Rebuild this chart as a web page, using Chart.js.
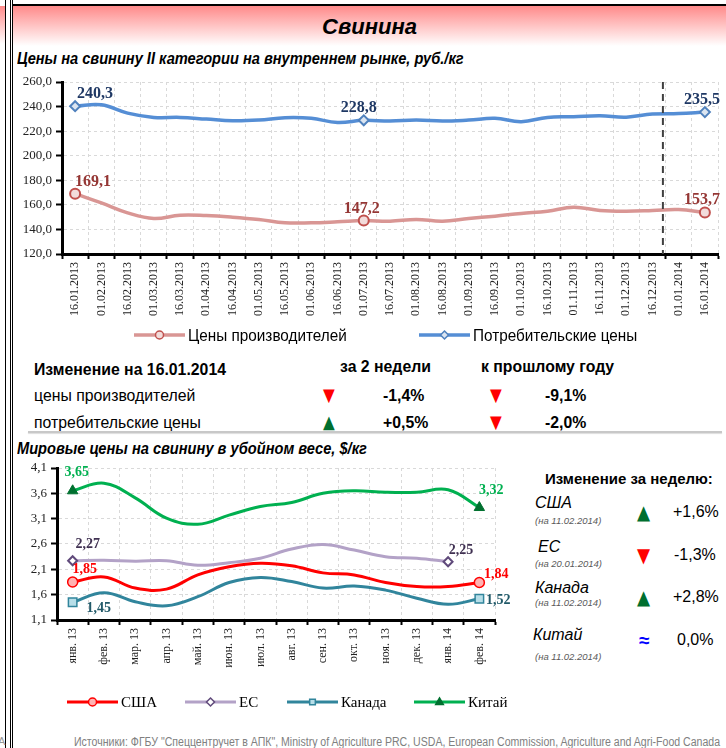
<!DOCTYPE html>
<html lang="ru">
<head>
<meta charset="utf-8">
<title>Свинина</title>
<script src="https://cdn.jsdelivr.net/npm/chart.js@4.4.1/dist/chart.umd.min.js"></script>
<style>
  body { margin: 0; width: 726px; height: 748px; overflow: hidden; background: #fff; position: relative;
         font-family: "Liberation Sans", Arial, sans-serif; color: #000; }
  .abs { position: absolute; white-space: nowrap; line-height: 1; }
  .vline { position: absolute; top: 0; width: 1px; height: 748px; background: #000; }
  canvas { position: absolute; left: 0; }
  .title { left: 13px; width: 713px; top: 14px; text-align: center; font: italic bold 22px "Liberation Sans", Arial, sans-serif; }
  .sub { left: 17px; font-weight: bold; font-style: italic; font-size: 17px; transform: scaleX(0.86); transform-origin: left center; }
  .tbl { font-size: 17px; transform: translateY(-50%) scaleX(0.93); transform-origin: left center; }
  .tri { font-family: "DejaVu Sans", sans-serif; font-size: 18px; transform: translateY(-50%) scaleX(0.85); transform-origin: left center; }
  .b { font-weight: bold; }
  .up { color: #006f2f; } .down { color: #ff0000; }
  .wk { transform: translateY(-50%); }
  .cty { font-style: italic; font-size: 16px; }
  .dt { font-style: italic; font-size: 9.5px; color: #595959; }
</style>
</head>
<body>
<div class="abs" style="left:0;top:6px;width:5px;height:38px;background:linear-gradient(#ff8a8a,#fff)"></div>
<div class="abs" style="left:13px;top:6px;width:713px;height:40px;background:linear-gradient(#ff8a8a,#fff)"></div>
<div class="abs" style="left:12px;top:4px;width:714px;height:2px;background:#000"></div>
<div class="vline" style="left:5px"></div>
<div class="vline" style="left:10px"></div>
<div class="vline" style="left:12px"></div>
<div class="abs" style="left:-2px;top:736px;font-size:11px;color:#999">A</div>

<div class="abs title">Свинина</div>
<div class="abs sub" style="top:50px">Цены на свинину II категории на внутреннем рынке, руб./кг</div>

<canvas id="domestic" width="726" height="284" style="top:66px"></canvas>

<div class="abs tbl b" style="left:34px;top:369px">Изменение на 16.01.2014</div>
<div class="abs tbl b" style="left:340px;top:366px">за 2 недели</div>
<div class="abs tbl b" style="left:481px;top:366px">к прошлому году</div>
<div class="abs tbl" style="left:34px;top:395px">цены производителей</div>
<div class="abs tri down" style="left:323px;top:395px">▼</div>
<div class="abs tbl b" style="left:383px;top:395px">-1,4%</div>
<div class="abs tri down" style="left:490px;top:395px">▼</div>
<div class="abs tbl b" style="left:545px;top:395px">-9,1%</div>
<div class="abs tbl" style="left:34px;top:422px">потребительские цены</div>
<div class="abs tri up" style="left:323px;top:422px">▲</div>
<div class="abs tbl b" style="left:383px;top:422px">+0,5%</div>
<div class="abs tri down" style="left:490px;top:422px">▼</div>
<div class="abs tbl b" style="left:545px;top:422px">-2,0%</div>
<div class="abs" style="left:28px;top:431px;width:694px;height:2px;background:#c8c8c8;box-shadow:0 1px 1px #ddd"></div>

<div class="abs sub" style="top:440px">Мировые цены на свинину в убойном весе, $/кг</div>
<canvas id="world" width="520" height="275" style="top:440px"></canvas>

<div class="abs wk b" style="left:545px;top:478px;font-size:15px">Изменение за неделю:</div>
<div class="abs wk cty" style="left:535px;top:503px">США</div>
<div class="abs wk dt" style="left:535px;top:521px">(на 11.02.2014)</div>
<div class="abs tri up" style="left:637px;top:512px;font-size:20px">▲</div>
<div class="abs wk" style="left:673px;top:512px;font-size:16px">+1,6%</div>
<div class="abs wk cty" style="left:538px;top:547px">ЕС</div>
<div class="abs wk dt" style="left:535px;top:564px">(на 20.01.2014)</div>
<div class="abs tri down" style="left:637px;top:555px;font-size:20px">▼</div>
<div class="abs wk" style="left:674px;top:555px;font-size:16px">-1,3%</div>
<div class="abs wk cty" style="left:535px;top:588px">Канада</div>
<div class="abs wk dt" style="left:535px;top:603px">(на 11.02.2014)</div>
<div class="abs tri up" style="left:637px;top:597px;font-size:20px">▲</div>
<div class="abs wk" style="left:673px;top:597px;font-size:16px">+2,8%</div>
<div class="abs wk cty" style="left:533px;top:635px">Китай</div>
<div class="abs wk dt" style="left:535px;top:657px">(на 11.02.2014)</div>
<div class="abs wk b" style="left:639px;top:640px;font-size:19px;color:#0000ff">≈</div>
<div class="abs wk" style="left:677px;top:640px;font-size:16px">0,0%</div>

<div class="abs" style="left:74px;top:736px;font-size:12px;color:#808080;transform:scaleX(0.88);transform-origin:left center">Источники: ФГБУ "Спеццентручет в АПК", Ministry of Agriculture PRC, USDA, European Commission, Agriculture and Agri-Food Canada</div>

<script>
// внутренний рынок, руб./кг
const dates = ['16.01.2013', '01.02.2013', '16.02.2013', '01.03.2013', '16.03.2013', '01.04.2013', '16.04.2013',
  '01.05.2013', '16.05.2013', '01.06.2013', '16.06.2013', '01.07.2013', '16.07.2013', '01.08.2013', '16.08.2013',
  '01.09.2013', '16.09.2013', '01.10.2013', '16.10.2013', '01.11.2013', '16.11.2013', '01.12.2013', '16.12.2013',
  '01.01.2014', '16.01.2014'];
const producerPrices = [169.1, 161.6, 153.5, 148.9, 151.6, 151.3, 150.0, 148.1, 145.4, 145.4, 146.2, 147.2, 146.7,
  148.1, 146.7, 148.9, 150.8, 153.0, 154.8, 158.1, 155.4, 154.8, 155.4, 156.2, 153.7];
const consumerPrices = [240.3, 241.4, 234.7, 231.2, 231.2, 229.8, 228.4, 229.0, 230.9, 230.4, 227.1, 228.8, 228.2,
  229.0, 228.2, 229.0, 230.4, 227.7, 231.2, 231.7, 232.5, 231.4, 233.9, 234.4, 235.5];
const domesticTicks = [120, 140, 160, 180, 200, 220, 240, 260];
const domesticMarked = [0, 11, 24];
const yearDivider = 22.4; // между 16.12.2013 и 01.01.2014

// мировые цены, $/кг
const months = ['янв. 13', 'фев. 13', 'мар. 13', 'апр. 13', 'май. 13', 'июн. 13', 'июл. 13', 'авг. 13',
  'сен. 13', 'окт. 13', 'ноя. 13', 'дек. 13', 'янв. 14', 'фев. 14'];
const usa = [1.85, 1.95, 1.73, 1.71, 1.99, 2.15, 2.22, 2.17, 2.03, 1.99, 1.84, 1.76, 1.76, 1.84];
const eu = [2.27, 2.28, 2.26, 2.27, 2.18, 2.23, 2.32, 2.50, 2.59, 2.48, 2.35, 2.32, 2.25, null];
const canada = [1.45, 1.64, 1.46, 1.38, 1.56, 1.84, 1.94, 1.86, 1.73, 1.77, 1.69, 1.53, 1.41, 1.52];
const china = [3.65, 3.80, 3.51, 3.11, 2.99, 3.17, 3.34, 3.42, 3.60, 3.65, 3.62, 3.62, 3.67, 3.32];
const worldTicks = [1.1, 1.6, 2.1, 2.6, 3.1, 3.6, 4.1];

const comma = (v, d) => v.toFixed(d).replace('.', ',');

function marker(ctx, style, x, y, r, fill, stroke, lw) {
  ctx.save();
  ctx.beginPath();
  if (style === 'circle') {
    ctx.arc(x, y, r, 0, Math.PI * 2);
  } else if (style === 'rectRot') {
    ctx.moveTo(x, y - r); ctx.lineTo(x + r, y); ctx.lineTo(x, y + r); ctx.lineTo(x - r, y); ctx.closePath();
  } else if (style === 'rect') {
    const s = r * Math.SQRT1_2;
    ctx.rect(x - s, y - s, 2 * s, 2 * s);
  } else if (style === 'triangle') {
    ctx.moveTo(x, y - r); ctx.lineTo(x + r * 0.95, y + r * 0.6); ctx.lineTo(x - r * 0.95, y + r * 0.6); ctx.closePath();
  }
  ctx.fillStyle = fill;
  ctx.fill();
  ctx.lineWidth = lw;
  ctx.strokeStyle = stroke;
  ctx.stroke();
  ctx.restore();
}

// подписи значений у отмеченных точек
const valueLabels = {
  id: 'valueLabels',
  afterDatasetsDraw(chart, args, opts) {
    const ctx = chart.ctx;
    ctx.save();
    ctx.font = opts.font;
    ctx.textAlign = 'center';
    ctx.textBaseline = 'middle';
    chart.data.datasets.forEach((ds, di) => {
      const meta = chart.getDatasetMeta(di);
      Object.entries(ds.valueLabels || {}).forEach(([i, off]) => {
        const pt = meta.data[i];
        ctx.fillStyle = ds.labelColor;
        ctx.fillText(comma(ds.data[i], opts.decimals), pt.x + off[0], pt.y + off[1]);
      });
    });
    ctx.restore();
  }
};

// легенда в стиле Excel: линия с маркером
const seriesLegend = {
  id: 'seriesLegend',
  afterDraw(chart, args, opts) {
    const ctx = chart.ctx;
    ctx.save();
    ctx.font = opts.font;
    ctx.textBaseline = 'middle';
    chart.data.datasets.forEach((ds, i) => {
      const x = opts.xs[i], y = opts.y;
      ctx.strokeStyle = ds.borderColor;
      ctx.lineWidth = ds.borderWidth;
      ctx.beginPath(); ctx.moveTo(x, y); ctx.lineTo(x + opts.len, y); ctx.stroke();
      marker(ctx, ds.pointStyle, x + opts.len / 2, y, opts.r, ds.pointBackgroundColor, ds.pointBorderColor, 1.5);
      ctx.fillStyle = '#000';
      ctx.save();
      ctx.translate(x + opts.len + 3, y + 1);
      ctx.scale(opts.squeeze, 1);
      ctx.fillText(ds.label, 0, 0);
      ctx.restore();
    });
    ctx.restore();
  }
};

// пунктирная граница года
const divider = {
  id: 'divider',
  afterDatasetsDraw(chart, args, opts) {
    const xs = chart.scales.x, a = chart.chartArea;
    const x = xs.getPixelForValue(Math.floor(opts.at)) + (opts.at % 1) * (xs.getPixelForValue(1) - xs.getPixelForValue(0));
    const ctx = chart.ctx;
    ctx.save();
    ctx.strokeStyle = '#404040';
    ctx.lineWidth = 2;
    ctx.setLineDash([7, 5]);
    ctx.beginPath(); ctx.moveTo(x, a.top); ctx.lineTo(x, a.bottom); ctx.stroke();
    ctx.restore();
  }
};

function markRadius(idx, r) {
  return ctx => idx.includes(ctx.dataIndex) ? r : 0;
}

function axes(ticks, dec, yWidth, xHeight) {
  return {
    x: {
      offset: true,
      afterFit: s => { s.height = xHeight; },
      grid: { offset: true, color: '#d9d9d9', lineWidth: 1, tickColor: '#000', tickWidth: 2, tickLength: 5, tickBorderDash: [] },
      border: { color: '#000', width: 3, dash: [3, 3] },
      ticks: { autoSkip: false, minRotation: 90, maxRotation: 90, padding: 3, color: '#222',
               font: { family: '"Liberation Serif", "Times New Roman", serif', size: 12 } }
    },
    y: {
      min: ticks[0], max: ticks[ticks.length - 1],
      afterFit: s => { s.width = yWidth; },
      afterBuildTicks: s => { s.ticks = ticks.map(v => ({ value: v })); },
      grid: { color: '#d9d9d9', lineWidth: 1, tickColor: '#000', tickWidth: 2, tickLength: 6, tickBorderDash: [] },
      border: { color: '#000', width: 3, dash: [3, 3] },
      ticks: { padding: 4, color: '#222', callback: v => comma(v, dec),
               font: { family: '"Liberation Serif", "Times New Roman", serif', size: 13 } }
    }
  };
}

new Chart(document.getElementById('domestic'), {
  type: 'line',
  data: {
    labels: dates,
    datasets: [
      { label: 'Цены производителей', data: producerPrices, borderColor: '#d99694', borderWidth: 3.5, tension: 0.4,
        pointStyle: 'circle', pointRadius: markRadius(domesticMarked, 5), pointBackgroundColor: '#f2dcdb',
        pointBorderColor: '#c0504d', pointBorderWidth: 2, labelColor: '#953735',
        valueLabels: { 0: [18, -12], 11: [-2, -12], 24: [-3, -13] } },
      { label: 'Потребительские цены', data: consumerPrices, borderColor: '#558ed5', borderWidth: 3.5, tension: 0.4,
        pointStyle: 'rectRot', pointRadius: markRadius(domesticMarked, 5), pointBackgroundColor: '#dbe5f1',
        pointBorderColor: '#4f81bd', pointBorderWidth: 2, labelColor: '#1f3864',
        valueLabels: { 0: [20, -12], 11: [-5, -12], 24: [-3, -12] } }
    ]
  },
  options: {
    responsive: false,
    animation: false,
    layout: { padding: { left: 0, right: 8, top: 16, bottom: 0 } },
    scales: axes(domesticTicks, 1, 62, 96),
    plugins: {
      legend: { display: false },
      tooltip: { enabled: false },
      valueLabels: { font: 'bold 16px "Liberation Serif", "Times New Roman", serif', decimals: 1 },
      seriesLegend: { y: 269, xs: [134, 419], len: 51, r: 4, squeeze: 0.9,
                      font: '17px "Liberation Sans", Arial, sans-serif' },
      divider: { at: yearDivider }
    }
  },
  plugins: [divider, valueLabels, seriesLegend]
});

new Chart(document.getElementById('world'), {
  type: 'line',
  data: {
    labels: months,
    datasets: [
      { label: 'США', data: usa, borderColor: '#ff0000', borderWidth: 3, tension: 0.4,
        pointStyle: 'circle', pointRadius: markRadius([0, 13], 5), pointBackgroundColor: '#ffb3b3',
        pointBorderColor: '#ff0000', pointBorderWidth: 1.5, labelColor: '#ff0000',
        valueLabels: { 0: [12, -13], 13: [17, -8] } },
      { label: 'ЕС', data: eu, borderColor: '#b3a2c7', borderWidth: 3, tension: 0.4,
        pointStyle: 'rectRot', pointRadius: markRadius([0, 12], 4.5), pointBackgroundColor: '#ffffff',
        pointBorderColor: '#604a7b', pointBorderWidth: 2, labelColor: '#403152',
        valueLabels: { 0: [15, -16], 12: [13, -11] } },
      { label: 'Канада', data: canada, borderColor: '#31859c', borderWidth: 3, tension: 0.4,
        pointStyle: 'rect', pointRadius: markRadius([0, 13], 6), pointBackgroundColor: '#b7dee8',
        pointBorderColor: '#31859c', pointBorderWidth: 1.5, labelColor: '#215968',
        valueLabels: { 0: [26, 6], 13: [19, 2] } },
      { label: 'Китай', data: china, borderColor: '#00b050', borderWidth: 3, tension: 0.4,
        pointStyle: 'triangle', pointRadius: markRadius([0, 13], 6), pointBackgroundColor: '#00702f',
        pointBorderColor: '#00702f', pointBorderWidth: 1, labelColor: '#00b050',
        valueLabels: { 0: [4, -18], 13: [12, -17] } }
    ]
  },
  options: {
    responsive: false,
    animation: false,
    layout: { padding: { left: 0, right: 25, top: 28, bottom: 0 } },
    scales: axes(worldTicks, 1, 57, 95),
    plugins: {
      legend: { display: false },
      tooltip: { enabled: false },
      valueLabels: { font: 'bold 14px "Liberation Serif", "Times New Roman", serif', decimals: 2 },
      seriesLegend: { y: 262, xs: [67, 185, 287, 414], len: 51, r: 4, squeeze: 1,
                      font: '15px "Liberation Serif", "Times New Roman", serif' }
    }
  },
  plugins: [valueLabels, seriesLegend]
});
</script>
</body>
</html>
